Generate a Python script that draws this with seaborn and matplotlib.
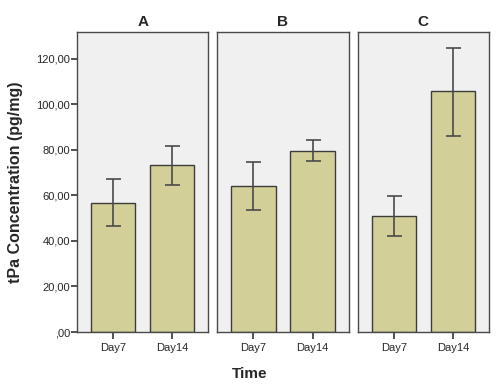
import numpy as np
import pandas as pd
import seaborn as sns
import matplotlib.pyplot as plt
from matplotlib.ticker import FuncFormatter

groups = ["A", "B", "C"]
days = ["Day7", "Day14"]
means = {"A": [56.7, 73.2], "B": [64.3, 79.6], "C": [50.8, 105.7]}
err_low = {"A": [46.7, 64.7], "B": [53.8, 75.0], "C": [42.0, 86.2]}
err_high = {"A": [67.0, 81.5], "B": [74.5, 84.2], "C": [59.6, 124.7]}
yticks = [0, 20, 40, 60, 80, 100, 120]

sns.set_style("white")
plt.rcParams['font.family'] = ['Liberation Sans', 'DejaVu Sans']

bar_color = "#d3cf98"
edge_color = "#3c3c3c"


def fmt(v, pos):
    s = "%.2f" % v
    s = s.replace(".", ",")
    if s.startswith("0,"):
        s = s[1:]
    return s


fig, axes = plt.subplots(1, 3, figsize=(5.0, 3.89), dpi=100, sharey=True)
fig.subplots_adjust(left=0.154, right=0.978, bottom=0.1465, top=0.918, wspace=0.0687)

for ax, g in zip(axes, groups):
    df = pd.DataFrame({"Time": days, "value": means[g]})
    sns.barplot(data=df, x="Time", y="value", ax=ax, color=bar_color, width=0.75,
                edgecolor=edge_color, linewidth=1.0, saturation=1, errorbar=None)
    m = np.array(means[g])
    lo = m - np.array(err_low[g])
    hi = np.array(err_high[g]) - m
    ax.errorbar(x=[0, 1], y=m, yerr=[lo, hi], fmt="none", ecolor="#4a4a4a",
                elinewidth=1.2, capsize=5.4, capthick=1.2)
    ax.set_facecolor("#f0f0f0")
    ax.set_xlim(-0.61, 1.61)
    ax.set_ylim(0, 131.8)
    ax.set_title(g, fontsize=11, fontweight="bold", pad=4)
    ax.set_xlabel("")
    ax.set_ylabel("")
    for sp in ax.spines.values():
        sp.set_color("#4a4a4a")
        sp.set_linewidth(1.0)
    ax.tick_params(axis="x", length=5, width=1.2, color="#333333", labelsize=8, pad=3, bottom=True)
    ax.tick_params(axis="y", length=4, width=1.2, color="#333333", labelsize=8, pad=1)

axes[0].set_yticks(yticks)
axes[0].yaxis.set_major_formatter(FuncFormatter(fmt))
axes[0].tick_params(axis="y", left=True)
for ax in axes[1:]:
    ax.tick_params(axis="y", left=False)

fig.text(0.5, 0.038, "Time", ha="center", va="center", fontsize=11, fontweight="bold")
fig.text(0.032, 0.532, "tPa Concentration (pg/mg)", ha="center", va="center",
         rotation=90, fontsize=11.5, fontweight="bold")

fig.savefig("out.png", dpi=100, facecolor="white")
